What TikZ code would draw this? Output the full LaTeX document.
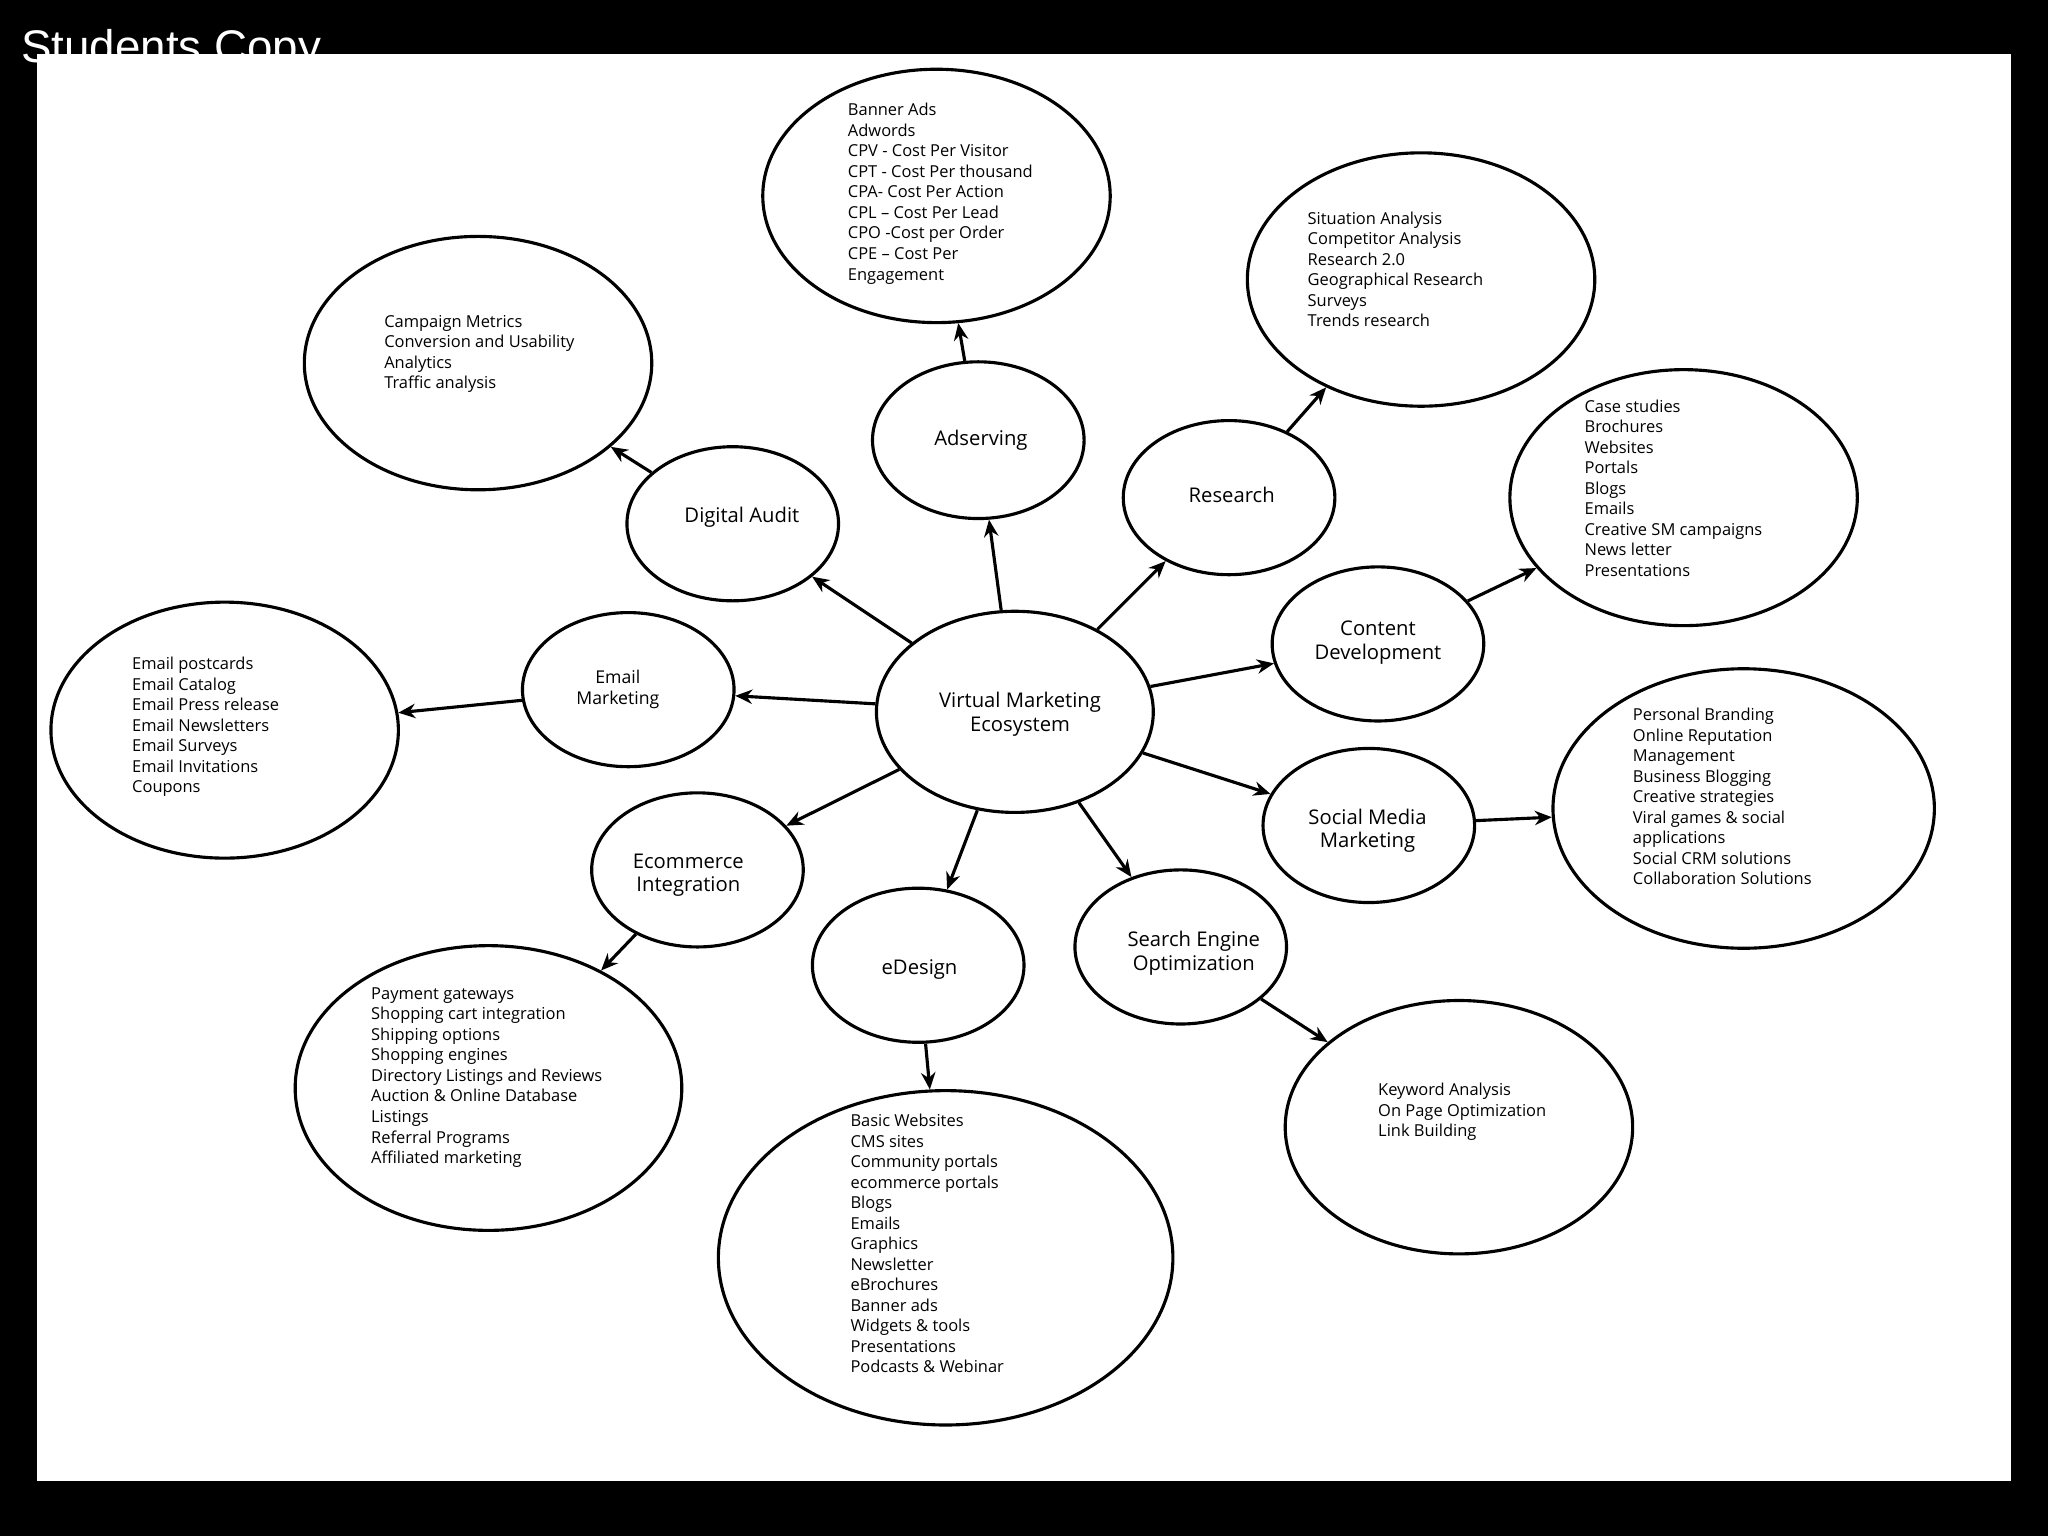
\documentclass[tikz,border=0pt]{standalone}
\usepackage{fontspec}
\setmainfont{Open Sans}
\newfontfamily\arialf{Liberation Sans}
\usetikzlibrary{shapes.geometric,arrows.meta}
\begin{document}
\begin{tikzpicture}[x=1pt,y=-1pt,
  bub/.style={draw,line width=2.4pt,ellipse,inner sep=0pt},
  lst/.style={anchor=north west,inner sep=0pt,align=left,font=\fontsize{12.6}{15.7}\selectfont},
  lbl/.style={align=center,font=\fontsize{15.5}{18}\selectfont},
  arr/.style={line width=2.4pt,-{Stealth[length=13pt,width=11pt]}}]
\useasboundingbox (0,0) rectangle (1568,1176);
\fill[black] (0,0) rectangle (1568,1176);
\node[anchor=base west,inner sep=0pt,text=white,font=\arialf\fontsize{35}{40}\selectfont] (title) at (16,48) {Students Copy};
\fill[white] (28,41) rectangle (1540,1134);
% bubbles
\newcommand\bubble[4]{\node[bub,minimum width=#3pt,minimum height=#4pt] (#1) at (#2) {};}
\bubble{c}{777,545}{212}{154}
\bubble{ad}{749,337}{162}{120}
\bubble{ado}{717,150}{266}{194}
\bubble{re}{941,381}{162}{118}
\bubble{reo}{1088,214}{266}{194}
\bubble{da}{561,401}{162}{118}
\bubble{dao}{366,278}{266}{194}
\bubble{cd}{1055,493}{162}{118}
\bubble{cdo}{1289,381}{266}{196}
\bubble{em}{481,528}{162}{118}
\bubble{emo}{172,559}{266}{196}
\bubble{sm}{1048,632}{162}{118}
\bubble{smo}{1335,619}{292}{214}
\bubble{ei}{534,666}{162}{118}
\bubble{eio}{374,833}{296}{218}
\bubble{ed}{703,739}{162}{118}
\bubble{edo}{724,963}{348}{256}
\bubble{se}{904,725}{162}{118}
\bubble{seo}{1117,863}{266}{194}
% labels
\node[lbl] (tc) at (781,547) {Virtual Marketing\\Ecosystem};
\node[lbl] (tad) at (751,337) {Adserving};
\node[lbl] (tre) at (943,379) {Research};
\node[lbl] (tda) at (568,396) {Digital Audit};
\node[lbl] (tcd) at (1055,492) {Content\\Development};
\node[lbl,font=\fontsize{13.5}{16}\selectfont] (tem) at (473,528) {Email\\Marketing};
\node[lbl] (tsm) at (1047,636) {Social Media\\Marketing};
\node[lbl] (tei) at (527,670) {Ecommerce\\Integration};
\node[lbl] (ted) at (704,742) {eDesign};
\node[lbl] (tse) at (914,730) {Search Engine\\Optimization};
% lists
\node[lst] (lad) at (649,79) {Banner Ads\\Adwords\\CPV - Cost Per Visitor\\CPT - Cost Per thousand\\CPA- Cost Per Action\\CPL -- Cost Per Lead\\CPO -Cost per Order\\CPE -- Cost Per\\Engagement};
\node[lst] (lre) at (1001,162) {Situation Analysis\\Competitor Analysis\\Research 2.0\\Geographical Research\\Surveys\\Trends research};
\node[lst] (lda) at (294,241) {Campaign Metrics\\Conversion and Usability\\Analytics\\Traffic analysis};
\node[lst] (lcd) at (1213,306) {Case studies\\Brochures\\Websites\\Portals\\Blogs\\Emails\\Creative SM campaigns\\News letter\\Presentations};
\node[lst] (lem) at (101,503) {Email postcards\\Email Catalog\\Email Press release\\Email Newsletters\\Email Surveys\\Email Invitations\\Coupons};
\node[lst] (lsm) at (1250,542) {Personal Branding\\Online Reputation\\Management\\Business Blogging\\Creative strategies\\Viral games \& social\\applications\\Social CRM solutions\\Collaboration Solutions};
\node[lst] (lei) at (284,756) {Payment gateways\\Shopping cart integration\\Shipping options\\Shopping engines\\Directory Listings and Reviews\\Auction \& Online Database\\Listings\\Referral Programs\\Affiliated marketing};
\node[lst] (led) at (651,853) {Basic Websites\\CMS sites\\Community portals\\ecommerce portals\\Blogs\\Emails\\Graphics\\Newsletter\\eBrochures\\Banner ads\\Widgets \& tools\\Presentations\\Podcasts \& Webinar};
\node[lst] (lse) at (1055,829) {Keyword Analysis\\On Page Optimization\\Link Building};
% arrows
\draw[arr] (c) -- (ad);
\draw[arr] (ad) -- (ado);
\draw[arr] (c) -- (re);
\draw[arr] (re) -- (reo);
\draw[arr] (c) -- (da);
\draw[arr] (da) -- (dao);
\draw[arr] (c) -- (cd);
\draw[arr] (cd) -- (cdo);
\draw[arr] (c) -- (em);
\draw[arr] (em) -- (emo);
\draw[arr] (c) -- (sm);
\draw[arr] (sm) -- (smo);
\draw[arr] (c) -- (ei);
\draw[arr] (ei) -- (eio);
\draw[arr] (c) -- (ed);
\draw[arr] (ed) -- (edo);
\draw[arr] (c) -- (se);
\draw[arr] (se) -- (seo);
\end{tikzpicture}
\end{document}
